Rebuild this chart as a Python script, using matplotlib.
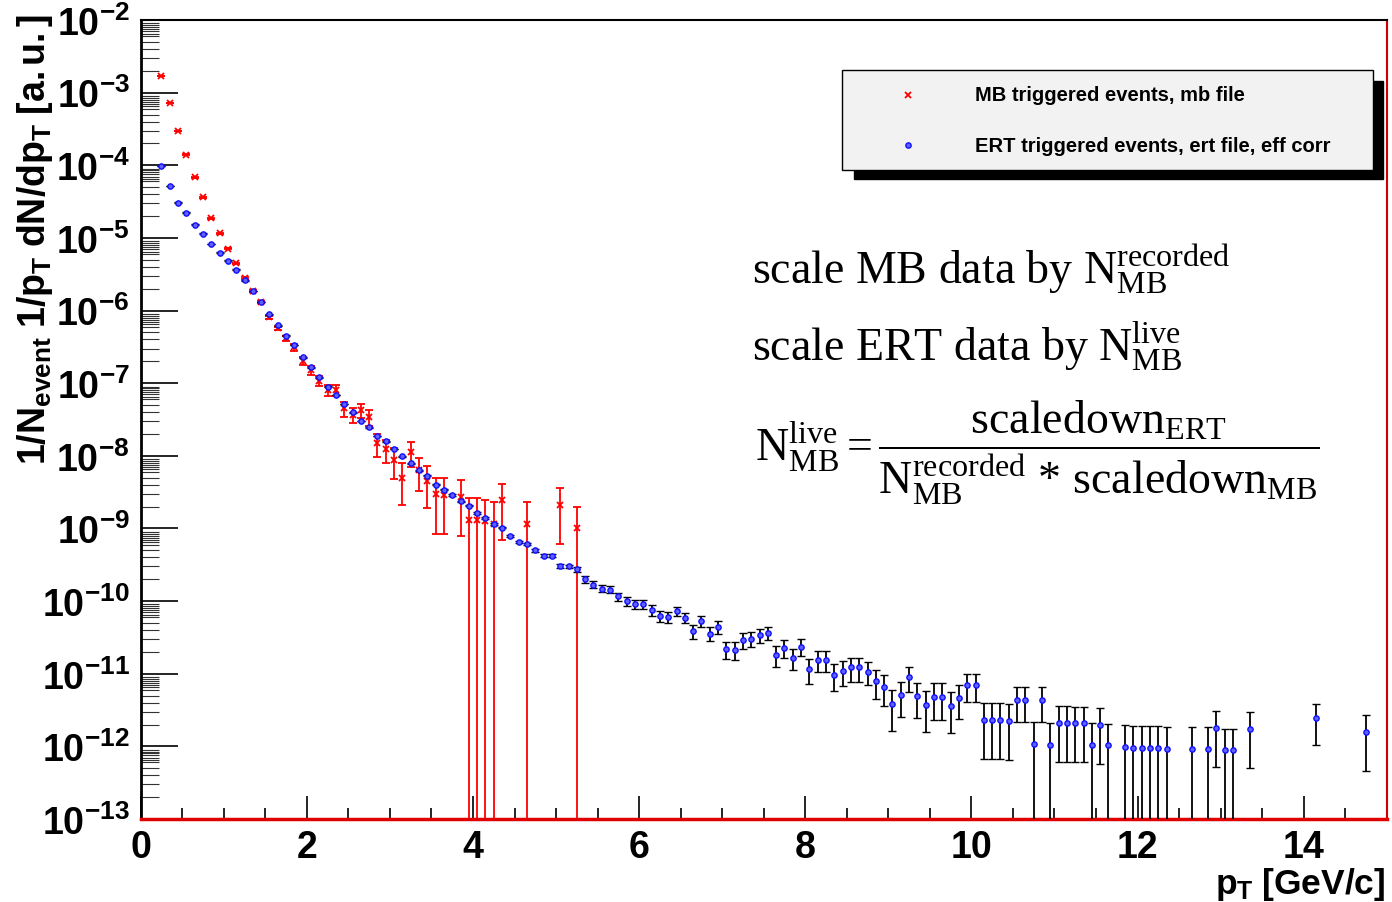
import numpy as np
import matplotlib
matplotlib.use('Agg')
import matplotlib.pyplot as plt
from matplotlib.ticker import MultipleLocator, FixedLocator, NullFormatter, FuncFormatter
from matplotlib.patches import Rectangle
from matplotlib.lines import Line2D

plt.rcParams['font.family'] = 'Liberation Sans'
plt.rcParams['font.weight'] = 'bold'
plt.rcParams['mathtext.fontset'] = 'custom'
plt.rcParams['mathtext.rm'] = 'Liberation Serif:weight=normal'
plt.rcParams['mathtext.it'] = 'Liberation Serif:italic:weight=normal'
plt.rcParams['mathtext.bf'] = 'Liberation Sans:bold'

# MB triggered spectrum (pT bin centre, yield, relative error)
mb_pt = [0.25, 0.35, 0.45, 0.55, 0.65, 0.75, 0.85, 0.95, 1.05, 1.15,
         1.25, 1.35, 1.45, 1.55, 1.65, 1.75, 1.85, 1.95, 2.05, 2.15,
         2.25, 2.35, 2.45, 2.55, 2.65, 2.75, 2.85, 2.95, 3.05, 3.15,
         3.25, 3.35, 3.45, 3.55, 3.65, 3.85, 3.95, 4.05, 4.15, 4.25,
         4.35, 4.65, 5.05, 5.25]
mb_y = [1.71e-3, 7.28e-4, 2.97e-4, 1.40e-4, 6.84e-5, 3.62e-5, 1.88e-5, 1.16e-5, 7.1e-6, 4.47e-6,
        2.8e-6, 1.86e-6, 1.31e-6, 8.05e-7, 5.69e-7, 4.14e-7, 3.11e-7, 2.04e-7, 1.51e-7, 1.08e-7,
        8.1e-8, 8.1e-8, 4.5e-8, 3.67e-8, 4.26e-8, 3.41e-8, 1.48e-8, 1.24e-8, 8.73e-9, 4.98e-9,
        1.14e-8, 6.35e-9, 4.53e-9, 2.94e-9, 2.88e-9, 2.72e-9, 1.31e-9, 1.31e-9, 1.25e-9, 1.16e-9,
        2.43e-9, 1.15e-9, 2.09e-9, 1.0e-9]
mb_rel = [0.005, 0.005, 0.005, 0.008, 0.01, 0.01, 0.015, 0.02, 0.02, 0.025,
          0.03, 0.035, 0.04, 0.04, 0.06, 0.09, 0.1, 0.12, 0.13, 0.15,
          0.17, 0.17, 0.23, 0.24, 0.22, 0.24, 0.34, 0.35, 0.45, 0.58,
          0.38, 0.48, 0.58, 0.71, 0.71, 0.71, 1.0, 1.0, 1.0, 1.0,
          0.71, 1.0, 0.71, 1.0]

# ERT triggered spectrum, efficiency corrected
ert_pt = [0.25, 0.35, 0.45, 0.55, 0.65, 0.75, 0.85, 0.95, 1.05, 1.15,
          1.25, 1.35, 1.45, 1.55, 1.65, 1.75, 1.85, 1.95, 2.05, 2.15,
          2.25, 2.35, 2.45, 2.55, 2.65, 2.75, 2.85, 2.95, 3.05, 3.15,
          3.25, 3.35, 3.45, 3.55, 3.65, 3.75, 3.85, 3.95, 4.05, 4.15,
          4.25, 4.35, 4.45, 4.55, 4.65, 4.75, 4.85, 4.95, 5.05, 5.15,
          5.25, 5.35, 5.45, 5.55, 5.65, 5.75, 5.85, 5.95, 6.05, 6.15,
          6.25, 6.35, 6.45, 6.55, 6.65, 6.75, 6.85, 6.95, 7.05, 7.15,
          7.25, 7.35, 7.45, 7.55, 7.65, 7.75, 7.85, 7.95, 8.05, 8.15,
          8.25, 8.35, 8.45, 8.55, 8.65, 8.75, 8.85, 8.95, 9.05, 9.15,
          9.25, 9.35, 9.45, 9.55, 9.65, 9.75, 9.85, 9.95, 10.05, 10.15,
          10.25, 10.35, 10.45, 10.55, 10.65, 10.75, 10.85, 10.95, 11.05, 11.15,
          11.25, 11.35, 11.45, 11.55, 11.65, 11.85, 11.95, 12.05, 12.15, 12.25,
          12.35, 12.65, 12.85, 12.95, 13.05, 13.15, 13.35, 14.15, 14.75]
ert_y = [9.8e-5, 5.2e-5, 3.05e-5, 2.22e-5, 1.52e-5, 1.14e-5, 8.3e-6, 6.3e-6, 4.85e-6, 3.65e-6,
         2.61e-6, 1.86e-6, 1.31e-6, 8.9e-7, 6.25e-7, 4.5e-7, 3.35e-7, 2.26e-7, 1.65e-7, 1.21e-7,
         8.97e-8, 6.86e-8, 5.15e-8, 3.96e-8, 3.03e-8, 2.46e-8, 1.88e-8, 1.59e-8, 1.24e-8, 9.8e-9,
         7.85e-9, 6.35e-9, 5.31e-9, 3.99e-9, 3.44e-9, 2.88e-9, 2.38e-9, 2.07e-9, 1.64e-9, 1.39e-9,
         1.16e-9, 1.03e-9, 7.9e-10, 6.54e-10, 6.08e-10, 5.02e-10, 4.2e-10, 4.2e-10, 3.05e-10, 3.0e-10,
         2.75e-10, 2.0e-10, 1.69e-10, 1.49e-10, 1.44e-10, 1.16e-10, 1.0e-10, 9.15e-11, 9.15e-11, 7.5e-11,
         6.25e-11, 6.05e-11, 7.33e-11, 5.94e-11, 3.89e-11, 5.34e-11, 3.58e-11, 4.47e-11, 2.18e-11, 2.15e-11,
         2.92e-11, 3.05e-11, 3.42e-11, 3.69e-11, 1.82e-11, 2.27e-11, 1.64e-11, 2.37e-11, 1.15e-11, 1.55e-11,
         1.55e-11, 9.75e-12, 1.09e-11, 1.22e-11, 1.22e-11, 1.07e-11, 7.9e-12, 6.58e-12, 3.84e-12, 5.1e-12,
         8.95e-12, 4.94e-12, 3.72e-12, 4.85e-12, 4.85e-12, 3.6e-12, 4.7e-12, 7.0e-12, 7.0e-12, 2.29e-12,
         2.29e-12, 2.29e-12, 2.24e-12, 4.36e-12, 4.36e-12, 1.09e-12, 4.35e-12, 1.06e-12, 2.08e-12, 2.08e-12,
         2.07e-12, 2.07e-12, 1.04e-12, 2.0e-12, 1.03e-12, 9.8e-13, 9.6e-13, 9.6e-13, 9.4e-13, 9.4e-13,
         9.3e-13, 9.1e-13, 9.1e-13, 1.77e-12, 8.8e-13, 8.8e-13, 1.72e-12, 2.46e-12, 1.58e-12]
ert_rel = [0.01, 0.01, 0.01, 0.01, 0.01, 0.01, 0.01, 0.01, 0.01, 0.01,
           0.01, 0.01, 0.01, 0.01, 0.01, 0.01, 0.01, 0.01, 0.01, 0.01,
           0.01, 0.01, 0.01, 0.01, 0.01, 0.01, 0.01, 0.01, 0.01, 0.01,
           0.015, 0.015, 0.015, 0.015, 0.02, 0.02, 0.02, 0.02, 0.02, 0.025,
           0.025, 0.025, 0.03, 0.03, 0.03, 0.04, 0.05, 0.05, 0.06, 0.06,
           0.08, 0.1, 0.11, 0.11, 0.11, 0.13, 0.14, 0.14, 0.14, 0.17,
           0.17, 0.18, 0.14, 0.17, 0.22, 0.18, 0.22, 0.2, 0.27, 0.27,
           0.25, 0.23, 0.22, 0.21, 0.31, 0.27, 0.32, 0.26, 0.37, 0.32,
           0.32, 0.4, 0.38, 0.36, 0.36, 0.35, 0.43, 0.45, 0.58, 0.5,
           0.38, 0.5, 0.57, 0.52, 0.52, 0.57, 0.5, 0.42, 0.42, 0.71,
           0.71, 0.71, 0.71, 0.5, 0.5, 1.0, 0.5, 1.0, 0.71, 0.71,
           0.71, 0.71, 1.0, 0.71, 1.0, 1.0, 1.0, 1.0, 1.0, 1.0,
           1.0, 1.0, 1.0, 0.71, 1.0, 1.0, 0.71, 0.58, 0.71]

legend_labels = ['MB triggered events, mb file', 'ERT triggered events, ert file, eff corr']
decades = list(range(-13, -1))


def asym_err(y, rel):
    y = np.asarray(y)
    rel = np.asarray(rel)
    hi = y * rel
    # bins with 100% error drop to zero -> run the bar off the bottom of the log axis
    lo = np.where(rel >= 1.0, y - 1e-20, y * rel)
    return [lo, hi]


fig = plt.figure(figsize=(13.92, 9.03), dpi=100)
ax = fig.add_axes([0.1011, 0.0919, 0.8951, 0.8848])

mb_style = dict(fmt='x', color='red', ms=4, mew=1.3, elinewidth=1.3,
                capsize=3, capthick=1.3)
ert_style = dict(fmt='o', ms=3.8, mfc='#6060ff', mec='#1010ff', mew=1.0,
                 ecolor='black', elinewidth=1.3, capsize=3, capthick=1.3)

ax.errorbar(mb_pt, mb_y, yerr=asym_err(mb_y, mb_rel), zorder=2, **mb_style)
ax.errorbar(ert_pt, ert_y, yerr=asym_err(ert_y, ert_rel), zorder=3, **ert_style)

ax.set_yscale('log')
ax.set_xlim(0, 15)
ax.set_ylim(1e-13, 1e-2)

# ROOT-like frame: ticks inside, dense log minor ticks
subs = [2, 3, 4, 5, 6, 6.5, 7, 7.5, 8, 8.5, 9]
ax.xaxis.set_major_locator(MultipleLocator(2))
ax.xaxis.set_minor_locator(MultipleLocator(0.5))
ax.yaxis.set_major_locator(FixedLocator([10.0 ** d for d in decades]))
ax.yaxis.set_minor_locator(FixedLocator([s * 10.0 ** d for d in decades[:-1] for s in subs]))
ax.yaxis.set_minor_formatter(NullFormatter())
ax.yaxis.set_major_formatter(FuncFormatter(lambda v, pos: r'$\mathbf{10^{%d}}$' % int(round(np.log10(v)))))

ax.tick_params(axis='x', which='major', direction='in', length=16.5, width=1.2, pad=7, labelsize=27)
ax.tick_params(axis='x', which='minor', direction='in', length=8, width=1.2)
ax.tick_params(axis='y', which='major', direction='in', length=26.5, width=1.2, pad=8, labelsize=27)
ax.tick_params(axis='y', which='minor', direction='in', length=13, width=0.8, color='#333333')

ax.spines['left'].set_linewidth(2)
ax.spines['top'].set_linewidth(1.5)
ax.spines['right'].set_color('#d00000')
ax.spines['right'].set_linewidth(1.5)
ax.spines['bottom'].set_color('#e00000')
ax.spines['bottom'].set_linewidth(2.5)

# axis titles sit at the axis ends, ROOT style
fig.text(0.0108, 0.984, r'$\mathbf{1/N_{event}\ 1/p_{T}\ dN/dp_{T}\ [a.u.]}$',
         rotation=90, ha='left', va='top', fontsize=27)
fig.text(0.9955, 0.0, r'$\mathbf{p_{T}\ [GeV/c]}$', ha='right', va='bottom', fontsize=25.5)

# legend box with solid shadow
fig.add_artist(Rectangle((0.6135, 0.8007), 0.380, 0.1085, transform=fig.transFigure,
                         facecolor='black', edgecolor='black', zorder=5))
fig.add_artist(Rectangle((0.6049, 0.8106), 0.3815, 0.1107, transform=fig.transFigure,
                         facecolor='#f2f2f2', edgecolor='black', lw=1, zorder=6))
fig.add_artist(Line2D([0.6523], [0.8937], marker='x', color='red', ms=4, mew=1.3,
                      transform=fig.transFigure, zorder=7))
fig.add_artist(Line2D([0.6523], [0.8383], marker='o', ms=3.8, mfc='#6060ff', mec='#1010ff',
                      mew=1.0, transform=fig.transFigure, zorder=7))
fig.text(0.7004, 0.8937, legend_labels[0], ha='left', va='center', fontsize=14.5, zorder=8)
fig.text(0.7004, 0.8383, legend_labels[1], ha='left', va='center', fontsize=14.5, zorder=8)

# normalisation notes
note_kw = dict(fontsize=33, family='Liberation Serif', weight='normal', ha='left', va='baseline')
fig.text(0.5402, 0.6855, r'scale MB data by $\mathrm{N}^{\mathrm{recorded}}_{\mathrm{MB}}$', **note_kw)
fig.text(0.5402, 0.6003, r'scale ERT data by $\mathrm{N}^{\mathrm{live}}_{\mathrm{MB}}$', **note_kw)
fig.text(0.5424, 0.4884,
         r'$\mathrm{N}^{\mathrm{live}}_{\mathrm{MB}} = \dfrac{\mathrm{scaledown}_{\mathrm{ERT}}}'
         r'{\mathrm{N}^{\mathrm{recorded}}_{\mathrm{MB}}\,*\,\mathrm{scaledown}_{\mathrm{MB}}}$',
         **note_kw)

fig.savefig('out.png', dpi=100)
